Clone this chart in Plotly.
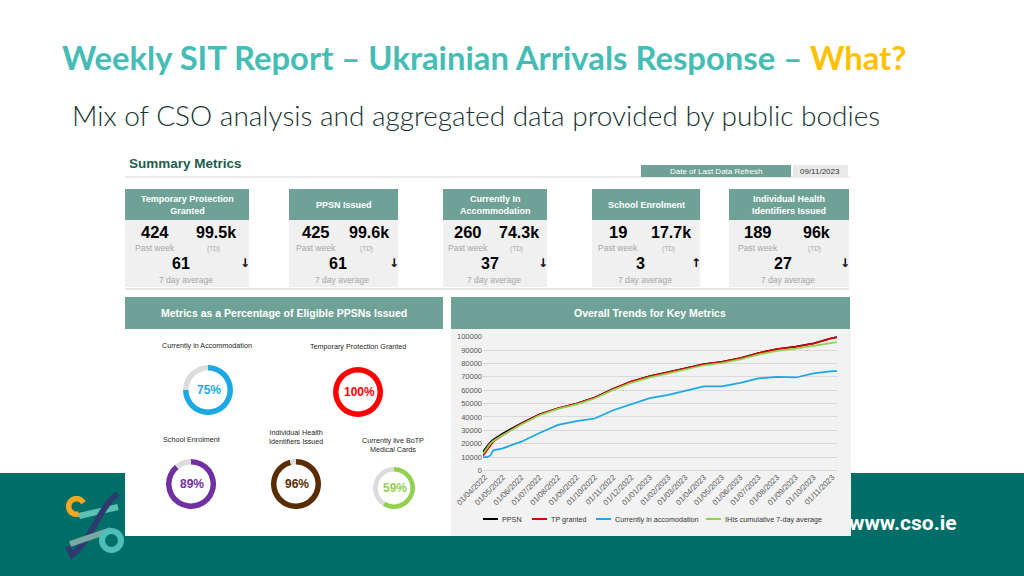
import math
import plotly.graph_objects as go

# ---------------- data ----------------
card_titles = ["Temporary Protection<br>Granted", "PPSN Issued", "Currently In<br>Accommodation",
               "School Enrolment", "Individual Health<br>Identifiers Issued"]
past_week = [424, 425, 260, 19, 189]
to_date = ["99.5k", "99.6k", "74.3k", "17.7k", "96k"]
avg7 = [61, 61, 37, 3, 27]
trend = ["down", "down", "down", "up", "down"]

donut_labels = ["Currently in Accommodation", "Temporary Protection Granted", "School Enrolment",
                "Individual Health<br>Identifiers Issued", "Currently live BoTP<br>Medical Cards"]
donut_pct = [75, 100, 89, 96, 59]

dates = ["2022-03-29", "2022-04-05", "2022-04-10", "2022-04-15", "2022-05-01", "2022-06-01",
         "2022-07-01", "2022-08-01", "2022-09-01", "2022-10-01", "2022-11-01", "2022-12-01",
         "2023-01-01", "2023-02-01", "2023-03-01", "2023-04-01", "2023-05-01", "2023-06-01",
         "2023-07-01", "2023-08-01", "2023-09-01", "2023-10-01", "2023-11-01", "2023-11-09"]
ppsn = [14000, 18500, 21000, 23000, 27700, 35200, 42000, 46500, 50000, 54500, 61000, 66500,
        70500, 73500, 76500, 79500, 81200, 84000, 87800, 90800, 92500, 95000, 99000, 99600]
tp_granted = [11000, 15500, 19000, 21500, 26500, 34800, 41800, 46400, 49900, 54400, 60900, 66400,
              70400, 73400, 76400, 79400, 81100, 83900, 87700, 90700, 92400, 94900, 98900, 99500]
accommodation = [10000, 10000, 11000, 15000, 16500, 21500, 28000, 34000, 36800, 38800, 45000, 49300,
                 54000, 56500, 59500, 62800, 62800, 65500, 68800, 70000, 69500, 72500, 74300, 74300]
ihi = [12500, 17000, 20000, 22000, 26500, 34300, 41200, 46000, 49400, 53800, 60200, 65500,
       69600, 72600, 75600, 78600, 80300, 83000, 86600, 89400, 91000, 93200, 95600, 96000]
series_names = ["PPSN", "TP granted", "Currently in accomodation", "IHIs cumulative 7-day average"]
series_values = [ppsn, tp_granted, accommodation, ihi]

# ---------------- styling / layout ----------------
W, H = 1024, 576
def X(p): return p / W
def Y(p): return 1 - p / H

TEAL_BAND = "#006E68"
SAGE = "#6FA296"
TITLE_TEAL = "#45BDB6"
series_colors = ["#000000", "#E00000", "#1CA8E3", "#92D050"]
donut_colors = ["#1CA8E3", "#FF0000", "#7030A0", "#5B2C00", "#92D050"]
ARIAL = "Arial, Liberation Sans, sans-serif"

shapes = []
annotations = []

def rect(x0, y0, x1, y1, fill, line=None, layer="below"):
    shapes.append(dict(type="rect", xref="paper", yref="paper", x0=X(x0), x1=X(x1),
                       y0=Y(y1), y1=Y(y0), fillcolor=fill, layer=layer,
                       line=dict(width=0) if line is None else line))

def hline(x0, x1, y, color, width=1):
    shapes.append(dict(type="line", xref="paper", yref="paper", x0=X(x0), x1=X(x1),
                       y0=Y(y), y1=Y(y), line=dict(color=color, width=width), layer="below"))

def text(x, y, s, size, color="#000000", bold=False, xanchor="center", family=ARIAL, weight=None):
    f = dict(size=size, color=color, family=family)
    if weight is not None:
        f["weight"] = weight
    annotations.append(dict(xref="paper", yref="paper", x=X(x), y=Y(y), showarrow=False,
                            text=("<b>%s</b>" % s) if bold else s, xanchor=xanchor,
                            yanchor="middle", font=f, align="center"))

# background band & panel
rect(0, 473, 1024, 576, TEAL_BAND)
rect(125, 150, 850, 536, "#FFFFFF")

# header texts
annotations.append(dict(xref="paper", yref="paper", x=X(60), y=Y(57), showarrow=False,
                        xanchor="left", yanchor="middle",
                        text="<b>Weekly SIT Report – Ukrainian Arrivals Response – "
                             "<span style='color:#FFC000'>What?</span></b>",
                        font=dict(family="Lato, sans-serif", size=32.8, color=TITLE_TEAL)))
text(70, 115, "Mix of CSO analysis and aggregated data provided by public bodies", 28,
     color="#173333", xanchor="left", family="Lato, sans-serif", weight=300)

# summary header
text(127, 163, "Summary Metrics", 13.5, color="#1D5C4D", bold=True, xanchor="left")
hline(125, 849, 177, "#D9D9D9")
rect(641, 165, 791, 177, SAGE)
text(716, 171, "Date of Last Data Refresh", 8, color="#FFFFFF")
rect(793, 165, 848, 177, "#E9E9E9")
text(820, 171, "09/11/2023", 8, color="#333333")

# metric cards
card_x = [(125, 249), (289, 398), (443, 547), (592, 700), (729, 849)]
for (l, r), t, pw, td, a, tr in zip(card_x, card_titles, past_week, to_date, avg7, trend):
    w = r - l
    rect(l, 189, r, 220, SAGE)
    rect(l, 220, r, 287, "#F0F0F0")
    text((l + r) / 2, 204.5, t, 9, color="#FFFFFF", bold=True)
    text(l + 0.245 * w, 232, str(pw), 16.5, bold=True)
    text(l + 0.73 * w, 232, td, 16, bold=True)
    text(l + 0.245 * w, 248, "Past week", 8.5, color="#A6A6A6")
    text(l + 0.71 * w, 249, "(TD)", 6.5, color="#A6A6A6")
    text(l + 0.45 * w, 264, str(a), 16, bold=True)
    text(r - 4, 263, "↓" if tr == "down" else "↑", 12, bold=True, family="DejaVu Sans, sans-serif")
    text(l + 0.49 * w, 280, "7 day average", 8.5, color="#A6A6A6")
hline(125, 849, 289, "#E6E6E6", 2)

# lower panel headers
rect(125, 297, 443, 329, SAGE)
text(284, 313, "Metrics as a Percentage of Eligible PPSNs Issued", 10.5, color="#FFFFFF", bold=True)
rect(451, 297, 850, 329, SAGE)
text(650, 313, "Overall Trends for Key Metrics", 10.5, color="#FFFFFF", bold=True)
rect(451, 329, 851, 536, "#F2F2F2")

# donuts
donut_geom = [(208, 390, 25), (358, 392, 25), (191, 484, 25), (296, 484, 25), (394, 488, 21)]
donut_label_pos = [(207, 345), (358, 346), (191, 439), (296, 437), (393, 445)]
traces = []
for (cx, cy, rr), lab, lp, pct, col in zip(donut_geom, donut_labels, donut_label_pos, donut_pct, donut_colors):
    traces.append(go.Pie(values=[pct, 100 - pct], marker=dict(colors=[col, "#DCDCDC"], line=dict(width=0)),
                         hole=0.78, sort=False, direction="clockwise", rotation=0,
                         textinfo="none", hoverinfo="skip", showlegend=False,
                         domain=dict(x=[X(cx - rr), X(cx + rr)], y=[Y(cy + rr), Y(cy - rr)])))
    text(lp[0], lp[1], lab, 7.2, color="#262626")
    text(cx + 1, cy, "%d%%" % pct, 12, color=col, bold=True)

# line chart
for name, vals, col in zip(series_names, series_values, series_colors):
    traces.append(go.Scatter(x=dates, y=vals, mode="lines", name=name,
                             line=dict(color=col, width=1.7), showlegend=False,
                             xaxis="x", yaxis="y"))

# manual legend
legend_x = [483, 532, 596, 706]
for lx, name, col in zip(legend_x, series_names, series_colors):
    shapes.append(dict(type="line", xref="paper", yref="paper", x0=X(lx), x1=X(lx + 15),
                       y0=Y(519), y1=Y(519), line=dict(color=col, width=2), layer="above"))
    text(lx + 16.5, 519, name, 7.2, color="#333333", xanchor="left")

# logo (decorative)
def pth(points):
    return "M " + " L ".join("%f,%f" % (X(a), Y(b)) for a, b in points)

arc = []
for k in range(0, 41):
    ang = math.radians(28 + k * (262 / 40))
    arc.append((76.5 + 7.8 * math.cos(ang), 506.5 - 7.8 * math.sin(ang)))
shapes.append(dict(type="path", xref="paper", yref="paper", path=pth(arc),
                   line=dict(color="#F5A623", width=5.5), layer="above"))
shapes.append(dict(type="line", xref="paper", yref="paper", x0=X(79), y0=Y(516), x1=X(118), y1=Y(507),
                   line=dict(color="#5CC1B3", width=6), layer="above"))
shapes.append(dict(type="path", xref="paper", yref="paper",
                   path="M %f,%f C %f,%f %f,%f %f,%f L %f,%f" % (X(118), Y(494), X(100), Y(505), X(92), Y(540),
                                                               X(72), Y(555), X(68), Y(546)),
                   line=dict(color="#2F3B6E", width=6), layer="above"))
shapes.append(dict(type="line", xref="paper", yref="paper", x0=X(70), y0=Y(544), x1=X(111), y1=Y(530),
                   line=dict(color="#79A9A3", width=6), layer="above"))
shapes.append(dict(type="circle", xref="paper", yref="paper", x0=X(102), x1=X(121), y0=Y(550), y1=Y(531),
                   line=dict(color="#4CC0B8", width=6), layer="above"))

text(847, 523, "www.cso.ie", 21, color="#FFFFFF", bold=True, xanchor="left", family="Roboto, sans-serif")

fig = go.Figure(data=traces)
fig.update_layout(
    template="none",
    width=W, height=H, autosize=False,
    margin=dict(l=0, r=0, t=0, b=0, pad=0),
    paper_bgcolor="#FFFFFF", plot_bgcolor="rgba(0,0,0,0)",
    shapes=shapes, annotations=annotations,
    xaxis=dict(domain=[X(483), X(837)], type="date", range=["2022-03-29", "2023-11-09"],
               tick0="2022-04-01", dtick="M1", tickformat="%d/%m/%Y", tickangle=-45,
               tickfont=dict(size=7.8, color="#595959", family=ARIAL), showgrid=False,
               showline=False, zeroline=False, ticks="", automargin=False),
    yaxis=dict(domain=[Y(470.4), Y(336)], range=[0, 100500], dtick=10000, tick0=0, tickformat="d",
               tickfont=dict(size=7.5, color="#595959", family=ARIAL), showgrid=True,
               gridcolor="#D9D9D9", gridwidth=1, zeroline=True, zerolinecolor="#D9D9D9",
               zerolinewidth=1, showline=False, ticks="", automargin=False),
)
fig.write_html("out.html", config={"displayModeBar": False},
               post_script="document.body.style.margin='0';document.body.style.overflow='hidden';")
